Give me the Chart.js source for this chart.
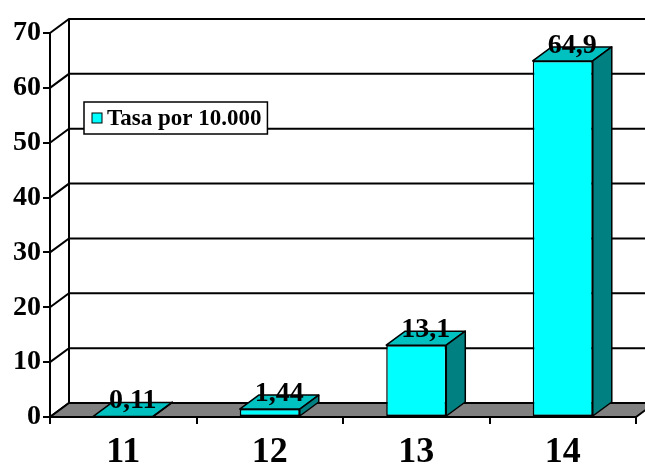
<!DOCTYPE html>
<html>
<head>
<meta charset="utf-8">
<script src="https://cdn.jsdelivr.net/npm/chart.js@4"></script>
<style>
  html, body { margin: 0; padding: 0; background: #fff; }
  canvas { display: block; }
</style>
</head>
<body>
<canvas id="chart" width="645" height="464"></canvas>
<script>
// Rates by group
const categories = ['11', '12', '13', '14'];
const rates = [0.11, 1.44, 13.1, 64.9];
const seriesName = 'Tasa por 10.000';
const yTickValues = [0, 10, 20, 30, 40, 50, 60, 70];

const FONT = "'Liberation Serif', 'Times New Roman', serif";
const DEPTH_X = 19;
const DEPTH_Y = -14;
const FRONT = '#00FFFF';
const TOP = '#00C0C0';
const SIDE = '#008080';
const FLOOR = '#808080';

const fmt = v => String(v).replace('.', ',');

// Draws the walls, floor and the extra faces of the columns
const box3d = {
  id: 'box3d',
  beforeDatasetsDraw(chart) {
    const { ctx, chartArea: a, scales: { y } } = chart;
    ctx.save();
    ctx.strokeStyle = '#000';
    ctx.lineWidth = 2;
    // side-wall diagonals and back-wall gridlines
    yTickValues.forEach(v => {
      const py = y.getPixelForValue(v);
      ctx.beginPath();
      ctx.moveTo(a.left, py);
      ctx.lineTo(a.left + DEPTH_X, py + DEPTH_Y);
      ctx.lineTo(chart.width + 10, py + DEPTH_Y);
      ctx.stroke();
    });
    // back-wall left edge
    const yTop = y.getPixelForValue(yTickValues[yTickValues.length - 1]);
    const y0 = y.getPixelForValue(0);
    ctx.beginPath();
    ctx.moveTo(a.left + DEPTH_X, yTop + DEPTH_Y);
    ctx.lineTo(a.left + DEPTH_X, y0 + DEPTH_Y);
    ctx.stroke();
    // floor
    ctx.beginPath();
    ctx.moveTo(a.left, y0);
    ctx.lineTo(a.right, y0);
    ctx.lineTo(a.right + DEPTH_X, y0 + DEPTH_Y);
    ctx.lineTo(a.left + DEPTH_X, y0 + DEPTH_Y);
    ctx.closePath();
    ctx.fillStyle = FLOOR;
    ctx.fill();
    ctx.stroke();
    ctx.restore();
  },
  afterDatasetsDraw(chart) {
    const { ctx } = chart;
    const meta = chart.getDatasetMeta(0);
    ctx.save();
    ctx.strokeStyle = '#000';
    ctx.lineWidth = 1.5;
    ctx.lineJoin = 'round';
    meta.data.forEach(bar => {
      const { x, y, base, width } = bar.getProps(['x', 'y', 'base', 'width'], true);
      const l = x - width / 2, r = x + width / 2;
      // top face
      ctx.beginPath();
      ctx.moveTo(l, y);
      ctx.lineTo(r, y);
      ctx.lineTo(r + DEPTH_X, y + DEPTH_Y);
      ctx.lineTo(l + DEPTH_X, y + DEPTH_Y);
      ctx.closePath();
      ctx.fillStyle = TOP;
      ctx.fill();
      ctx.stroke();
      // side face
      ctx.beginPath();
      ctx.moveTo(r, y);
      ctx.lineTo(r + DEPTH_X, y + DEPTH_Y);
      ctx.lineTo(r + DEPTH_X, base + DEPTH_Y);
      ctx.lineTo(r, base);
      ctx.closePath();
      ctx.fillStyle = SIDE;
      ctx.fill();
      ctx.stroke();
    });
    // value labels
    ctx.fillStyle = '#000';
    ctx.font = 'bold 28px ' + FONT;
    ctx.textAlign = 'center';
    ctx.textBaseline = 'alphabetic';
    meta.data.forEach((bar, i) => {
      const { x, y } = bar.getProps(['x', 'y'], true);
      ctx.fillText(fmt(rates[i]), x + DEPTH_X / 2, y - 8);
    });
    ctx.restore();
  },
  afterDraw(chart) {
    // legend box inside the plot
    const { ctx } = chart;
    ctx.save();
    ctx.font = 'bold 23px ' + FONT;
    const tw = ctx.measureText(seriesName).width;
    const bx = 84, by = 102, bh = 32;
    const bw = 23 + tw + 6;
    ctx.fillStyle = '#fff';
    ctx.fillRect(bx, by, bw, bh);
    ctx.strokeStyle = '#000';
    ctx.lineWidth = 1.5;
    ctx.strokeRect(bx, by, bw, bh);
    ctx.fillStyle = FRONT;
    ctx.fillRect(bx + 8, by + 11, 10, 10);
    ctx.lineWidth = 1;
    ctx.strokeRect(bx + 8, by + 11, 10, 10);
    ctx.fillStyle = '#000';
    ctx.textAlign = 'left';
    ctx.textBaseline = 'alphabetic';
    ctx.fillText(seriesName, bx + 23, by + 23);
    ctx.restore();
  }
};

new Chart(document.getElementById('chart'), {
  type: 'bar',
  data: {
    labels: categories,
    datasets: [{
      label: seriesName,
      data: rates,
      backgroundColor: FRONT,
      borderColor: '#000',
      borderWidth: 1.5,
      borderSkipped: false,
      categoryPercentage: 1,
      barPercentage: 0.41
    }]
  },
  options: {
    responsive: false,
    devicePixelRatio: 1,
    animation: false,
    layout: { padding: { top: 33, right: 9, left: 0, bottom: 0 } },
    plugins: {
      legend: { display: false },
      tooltip: { enabled: false }
    },
    scales: {
      x: {
        grid: { offset: true, drawOnChartArea: false, drawTicks: true, tickLength: 7, color: '#000', lineWidth: 2 },
        border: { display: true, color: '#000', width: 2 },
        ticks: { color: '#000', font: { family: FONT, size: 36, weight: 'bold' }, padding: 7, maxRotation: 0 },
        afterFit: s => { s.height = 47; }
      },
      y: {
        min: 0,
        max: 70,
        afterBuildTicks: s => { s.ticks = yTickValues.map(v => ({ value: v })); },
        grid: { drawOnChartArea: false, drawTicks: true, tickLength: 7, color: '#000', lineWidth: 2 },
        border: { display: true, color: '#000', width: 2 },
        ticks: { color: '#000', font: { family: FONT, size: 28, weight: 'bold' }, padding: 2 },
        afterFit: s => { s.width = 50; }
      }
    }
  },
  plugins: [box3d]
});
</script>
</body>
</html>
